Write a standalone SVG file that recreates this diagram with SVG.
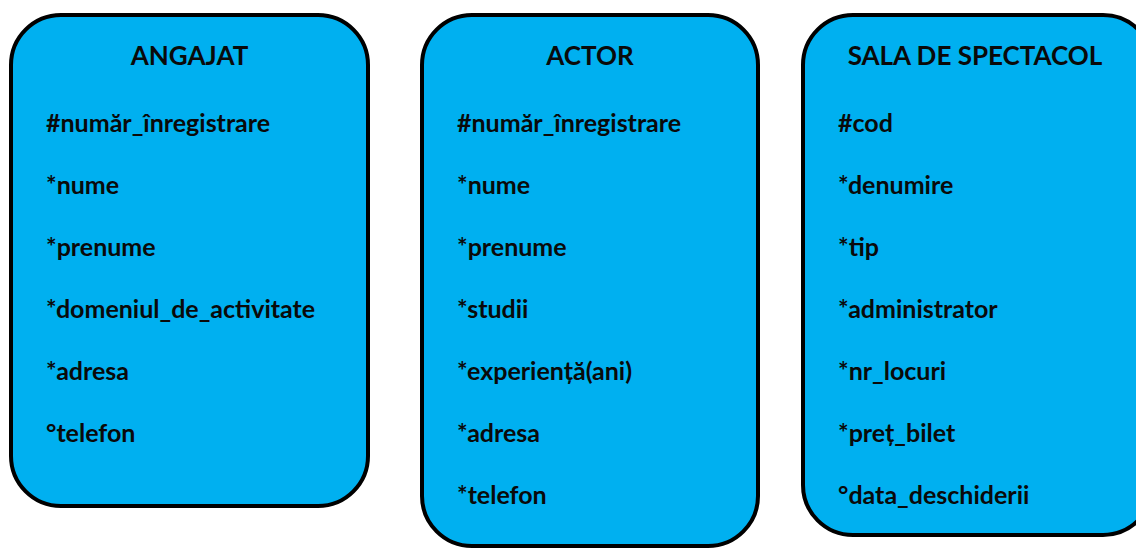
<svg xmlns="http://www.w3.org/2000/svg" width="1136" height="548" viewBox="0 0 1136 548">
<style>
.box{fill:#00B0F0;stroke:#000;stroke-width:4}
.t{font-family:Lato,"Liberation Sans",sans-serif;font-weight:bold;font-size:26px;fill:#0a0a0a;text-anchor:middle}
.a{font-family:Lato,"Liberation Sans",sans-serif;font-weight:bold;font-size:25px;fill:#0a0a0a}
</style>
<rect width="1136" height="548" fill="#fff"/>
<g id="angajat">
<rect class="box" x="11" y="15" width="357" height="491" rx="50" ry="50"/>
<text class="t" x="189.5" y="65">ANGAJAT</text>
<text class="a" x="46" y="132">#număr_înregistrare</text>
<text class="a" x="46" y="194">*nume</text>
<text class="a" x="46" y="256">*prenume</text>
<text class="a" x="46" y="318">*domeniul_de_activitate</text>
<text class="a" x="46" y="380">*adresa</text>
<text class="a" x="46" y="442">°telefon</text>
</g>
<g id="actor">
<rect class="box" x="422" y="15" width="336" height="531" rx="50" ry="50"/>
<text class="t" x="590" y="65">ACTOR</text>
<text class="a" x="457" y="132">#număr_înregistrare</text>
<text class="a" x="457" y="194">*nume</text>
<text class="a" x="457" y="256">*prenume</text>
<text class="a" x="457" y="318">*studii</text>
<text class="a" x="457" y="380">*experiență(ani)</text>
<text class="a" x="457" y="442">*adresa</text>
<text class="a" x="457" y="504">*telefon</text>
</g>
<g id="sala">
<rect class="box" x="803" y="15" width="350" height="520" rx="50" ry="50"/>
<text class="t" x="975" y="65">SALA DE SPECTACOL</text>
<text class="a" x="838" y="132">#cod</text>
<text class="a" x="838" y="194">*denumire</text>
<text class="a" x="838" y="256">*tip</text>
<text class="a" x="838" y="318">*administrator</text>
<text class="a" x="838" y="380">*nr_locuri</text>
<text class="a" x="838" y="442">*preț_bilet</text>
<text class="a" x="838" y="504">°data_deschiderii</text>
</g>
<g id="connectors"/>
</svg>
